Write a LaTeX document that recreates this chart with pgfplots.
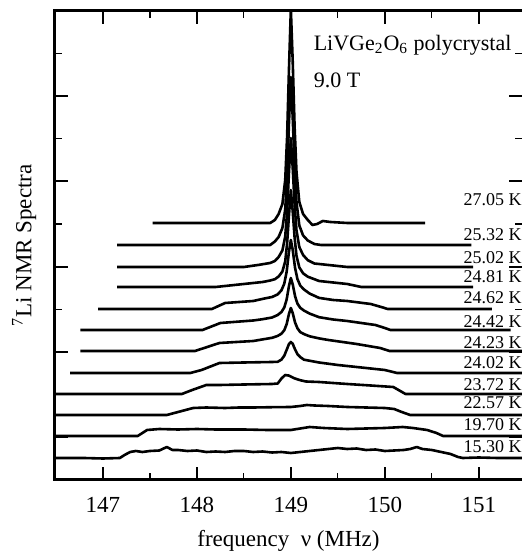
\documentclass[border=0pt]{standalone}
\usepackage{fontspec}
\setmainfont{Liberation Serif}
\usepackage{pgfplots}
\pgfplotsset{compat=1.18}
\begin{document}
\begin{tikzpicture}
\begin{axis}[name=ax, at={(0,0)}, anchor=south west, scale only axis,
 width=233.5pt, height=234.5pt,
 xmin=146.49, xmax=151.46, ymin=0, ymax=469,
 axis line style={draw=none},
 xtick={147,148,149,150,151}, minor xtick={147.5,148.5,149.5,150.5},
 ytick={42.67,128,213.33,298.67,384}, minor ytick={85.33,170.67,256,341.33,426.67},
 yticklabels={},
 tick align=inside, xtick pos=both, ytick pos=both,
 major tick length=6.5pt, minor tick length=3.5pt,
 major tick style={line width=1pt, black},
 minor tick style={line width=0.6pt, black},
 tick label style={font=\fontsize{11.5}{13}\selectfont},
 /pgf/number format/assume math mode=true,
 xticklabel style={yshift=-5pt},
 xlabel={frequency\ \ ν (MHz)}, ylabel={\textsuperscript{7}Li NMR Spectra},
 label style={font=\fontsize{11.5}{13}\selectfont},
 xlabel style={at={(axis description cs:0.5,-0.13)}, anchor=center},
 ylabel style={at={(axis description cs:-0.066,0.5)}, anchor=center},
 spec/.style={black, solid, line width=1.3pt, mark=none, line join=round},
]
% 27.05 K
\addplot[spec] coordinates {(147.53,257)(148.0,257)(148.5,257)(148.78,257)(148.83,260)(148.87,266)(148.91,276)(148.94,300)(148.96,343)(148.98,411)(149.00,471)(149.02,418)(149.04,353)(149.06,308)(149.09,278)(149.13,266)(149.18,260)(149.23,255)(149.28,256)(149.34,259)(149.42,258)(149.6,257)(150.0,257)(150.43,257)};
% 25.32 K
\addplot[spec] coordinates {(147.15,235)(147.6,235)(148.2,235)(148.78,235)(148.83,238.5)(148.87,243)(148.91,252)(148.94,270.5)(148.96,304)(148.98,357)(149.00,403)(149.02,362)(149.04,312)(149.06,278)(149.09,254.5)(149.13,244.6)(149.18,239.5)(149.25,236)(149.32,235)(149.6,235)(150.0,235)(150.5,235)(150.92,235)};
% 25.02 K
\addplot[spec] coordinates {(147.15,213)(147.7,213)(148.3,213)(148.5,213)(148.65,215)(148.78,217)(148.83,219)(148.87,223)(148.91,229.6)(148.94,243.4)(148.96,268)(148.98,307.7)(149.00,342)(149.02,311.7)(149.04,275.4)(149.06,249.6)(149.09,233)(149.13,225)(149.18,219.8)(149.25,216.5)(149.4,215)(149.6,213)(150.2,213)(150.94,213)};
% 24.81 K
\addplot[spec] coordinates {(147.15,193)(147.7,193)(148.2,193)(148.5,196)(148.7,198)(148.78,199.5)(148.83,200.8)(148.87,203.5)(148.91,208.5)(148.94,218.6)(148.96,236.4)(148.98,264.7)(149.00,290)(149.02,268.4)(149.04,242.4)(149.06,224.2)(149.09,212.6)(149.13,206.7)(149.18,203.3)(149.3,199)(149.45,197.5)(149.6,196)(149.75,193)(150.3,193)(150.94,193)};
% 24.62 K
\addplot[spec] coordinates {(146.95,171)(147.5,171)(148.0,171)(148.16,171)(148.3,177)(148.6,179)(148.70,181.1)(148.80,183)(148.86,185.6)(148.90,189.7)(148.93,196.3)(148.955,208)(148.98,228.4)(149.00,240)(149.02,229.9)(149.045,212)(149.07,201)(149.10,194.4)(149.14,190.5)(149.20,186.4)(149.30,182.1)(149.45,180)(149.6,179)(149.85,176)(149.98,172.5)(150.03,171)(150.5,171)(151.14,171)};
% 24.42 K
\addplot[spec] coordinates {(146.76,150)(147.4,150)(148.06,150)(148.25,157)(148.6,159.5)(148.70,160.8)(148.80,162.5)(148.86,165)(148.90,168)(148.93,172.5)(148.955,180.4)(148.98,194)(149.00,202)(149.02,195.5)(149.045,183.7)(149.07,176.4)(149.10,172.2)(149.14,169.4)(149.20,166.4)(149.30,162.8)(149.45,160.5)(149.6,159)(149.9,155)(150.0,152)(150.06,150)(150.6,150)(151.34,150)};
% 24.23 K
\addplot[spec] coordinates {(146.76,129)(147.4,129)(147.98,129)(148.24,137)(148.6,139)(148.70,140.6)(148.80,142.2)(148.86,144.1)(148.90,146.3)(148.93,149.8)(148.955,155.7)(148.98,166.1)(149.00,172)(149.02,166.8)(149.045,157.5)(149.07,151.7)(149.10,147.9)(149.14,145.9)(149.20,143.7)(149.30,141.6)(149.4,140)(149.7,136)(149.95,132)(150.05,129)(150.6,129)(151.5,129)};
% 24.02 K
\addplot[spec] coordinates {(146.65,107)(147.3,107)(147.93,107)(148.05,110)(148.24,117)(148.5,117.5)(148.8,118)(148.86,118.2)(148.90,120.4)(148.93,124.3)(148.96,131.2)(148.98,136)(149.00,138)(149.02,136.2)(149.04,131.6)(149.07,125.8)(149.10,122.9)(149.14,120.3)(149.3,117.5)(149.5,115)(149.75,112.5)(150.0,110)(150.13,107)(150.8,107)(151.5,107)};
% 23.72 K
\addplot[spec] coordinates {(146.4,86)(147.2,86)(147.84,86)(147.95,90)(148.1,95)(148.24,95)(148.5,95.5)(148.8,96)(148.86,96.5)(148.90,101.5)(148.94,105)(148.98,104.4)(149.04,101.6)(149.10,99.8)(149.16,98.5)(149.3,98)(149.6,96)(149.85,94.5)(150.09,93)(150.22,86)(150.8,86)(151.5,86)};
% 22.57 K
\addplot[spec] coordinates {(146.4,65)(147.0,65)(147.68,65)(147.8,68)(147.96,72)(148.1,72.5)(148.3,72)(148.45,72.5)(148.6,72.5)(148.8,72.8)(149.0,73)(149.1,74)(149.17,75)(149.25,74.5)(149.4,74)(149.6,73)(149.8,72.5)(150.0,72)(150.1,71)(150.18,68)(150.27,65)(150.8,65)(151.5,65)};
% 19.70 K
\addplot[spec] coordinates {(146.4,44)(147.0,44)(147.37,44)(147.42,47)(147.47,50)(147.6,51)(147.8,50.5)(148.0,51)(148.2,50.5)(148.5,50.5)(148.75,50)(149.0,50)(149.1,51.5)(149.2,53)(149.35,52)(149.6,51)(149.8,51.5)(150.0,52)(150.19,53)(150.3,52)(150.45,50)(150.55,47)(150.62,44)(151.0,44)(151.5,44)};
% 15.30 K
\addplot[spec] coordinates {(146.4,22)(146.8,22)(147.0,21.5)(147.18,22)(147.23,25)(147.29,28)(147.35,29)(147.42,28)(147.5,29)(147.6,29.5)(147.68,33)(147.74,30)(147.8,30)(147.9,29)(148.0,29.5)(148.1,28)(148.2,28.5)(148.3,28)(148.4,29)(148.5,29)(148.6,28)(148.7,28.5)(148.8,27.5)(148.9,28)(149.0,27)(149.1,28)(149.2,29)(149.3,30)(149.4,31)(149.5,32)(149.6,31)(149.7,31.5)(149.8,30)(149.9,30.5)(150.0,29)(150.1,29.5)(150.2,30)(150.27,31)(150.34,33)(150.4,31)(150.5,30)(150.6,28)(150.7,26)(150.78,23)(150.83,22)(151.0,22.5)(151.2,22)(151.5,22)};
\begin{scope}[every node/.style={anchor=east, inner sep=0pt, font=\fontsize{9}{10}\selectfont}]
\node at (axis cs:151.46,280) {27.05 K};
\node at (axis cs:151.46,245) {25.32 K};
\node at (axis cs:151.46,222) {25.02 K};
\node at (axis cs:151.46,203) {24.81 K};
\node at (axis cs:151.46,182) {24.62 K};
\node at (axis cs:151.46,158) {24.42 K};
\node at (axis cs:151.46,137) {24.23 K};
\node at (axis cs:151.46,117) {24.02 K};
\node at (axis cs:151.46,95) {23.72 K};
\node at (axis cs:151.46,77) {22.57 K};
\node at (axis cs:151.46,55) {19.70 K};
\node at (axis cs:151.46,33) {15.30 K};
\end{scope}
\node[anchor=west, inner sep=0pt, font=\fontsize{11}{13}\selectfont] at (axis cs:149.24,435) {LiVGe\textsubscript{2}O\textsubscript{6} polycrystal};
\node[anchor=west, inner sep=0pt, font=\fontsize{11}{13}\selectfont] at (axis cs:149.24,400) {9.0 T};
\end{axis}
\draw[line width=1.5pt] (ax.north east) -- (ax.north west) -- (ax.south west) -- (ax.south east);
\pgfresetboundingbox
\path[use as bounding box] (-27.5pt,-38pt) rectangle (233.5pt,240pt);
\end{tikzpicture}
\end{document}
